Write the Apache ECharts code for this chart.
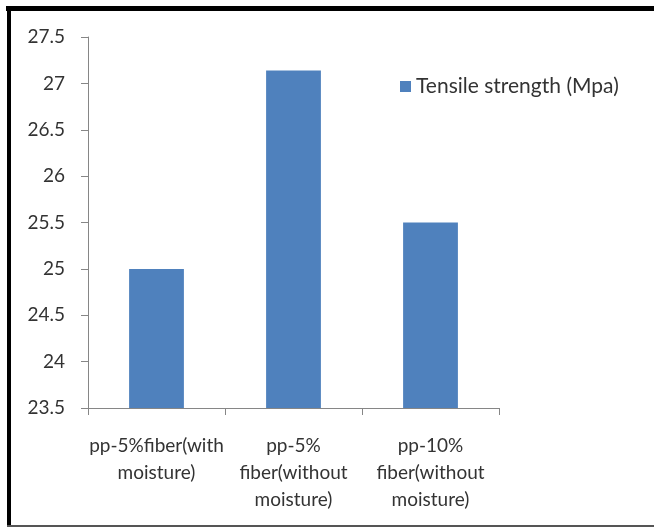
<!DOCTYPE html>
<html>
<head>
<meta charset="utf-8">
<script src="https://cdn.jsdelivr.net/npm/echarts@6/dist/echarts.min.js"></script>
<style>
  html, body { margin: 0; padding: 0; background: #fff; }
  #chart { width: 654px; height: 527px; }
</style>
</head>
<body>
<div id="chart"></div>
<script>
// Sample groups (line breaks as laid out under each bar)
const categories = [
  'pp-5%fiber(with\nmoisture)',
  'pp-5%\nfiber(without\nmoisture)',
  'pp-10%\nfiber(without\nmoisture)'
];
// Tensile strength of each sample, MPa
const tensileStrength = [25.0, 27.14, 25.5];
const seriesName = 'Tensile strength (Mpa)';

const textColor = '#333333';
const axisColor = '#868686';
const fontFamily = 'Lato, "Open Sans", sans-serif';

const chart = echarts.init(document.getElementById('chart'), null, { renderer: 'canvas' });
chart.setOption({
  animation: false,
  backgroundColor: '#fff',
  grid: { left: 88, right: 155, top: 37, bottom: 119, containLabel: false },
  legend: {
    data: [seriesName],
    left: 395,
    top: 71,
    itemWidth: 11,
    itemHeight: 11,
    icon: 'rect',
    textStyle: { color: textColor, fontSize: 21, fontFamily: fontFamily }
  },
  xAxis: {
    type: 'category',
    data: categories,
    axisLine: { show: true, lineStyle: { color: axisColor, width: 1 } },
    axisTick: { show: true, length: 7, alignWithLabel: false, lineStyle: { color: axisColor } },
    axisLabel: {
      color: textColor, fontSize: 19, fontFamily: fontFamily,
      lineHeight: 27, margin: 24, interval: 0
    }
  },
  yAxis: {
    type: 'value',
    min: 23.5,
    max: 27.5,
    interval: 0.5,
    axisLine: { show: true, lineStyle: { color: axisColor, width: 1 } },
    axisTick: { show: true, length: 7, lineStyle: { color: axisColor } },
    splitLine: { show: false },
    axisLabel: {
      color: textColor, fontSize: 19, fontFamily: fontFamily, margin: 23,
      formatter: v => String(v)
    }
  },
  series: [{
    name: seriesName,
    type: 'bar',
    data: tensileStrength,
    barWidth: '40%',
    itemStyle: { color: '#4f81bd' }
  }],
  graphic: [
    { type: 'rect', shape: { x: 6, y: 6, width: 648, height: 5 }, style: { fill: '#000' }, silent: true },
    { type: 'rect', shape: { x: 7, y: 6, width: 4, height: 521 }, style: { fill: '#000' }, silent: true },
    { type: 'rect', shape: { x: 7, y: 525, width: 647, height: 2 }, style: { fill: '#555' }, silent: true }
  ]
});
</script>
</body>
</html>
